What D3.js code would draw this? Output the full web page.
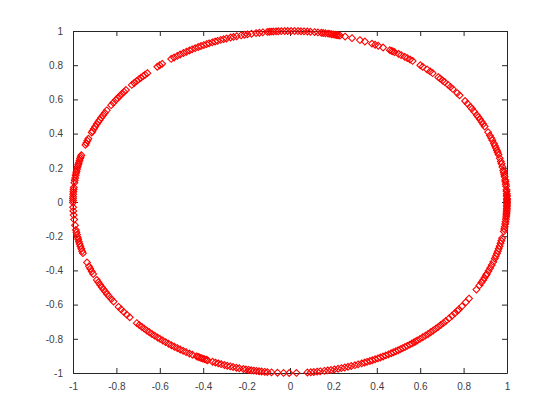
<!DOCTYPE html>
<html><head><meta charset="utf-8">
<script src="https://cdn.jsdelivr.net/npm/d3@7"></script>
<style>body{margin:0;background:#fff}svg{display:block}</style>
</head><body>
<script>
// Angles (degrees) of the plotted points on the unit circle
const anglesDeg = [
// right side, upper
0.3,0.8,1.2,1.9,2.3,2.8,3.6,4.1,5.3,6.0,6.8,7.4,8.5,9.2,9.9,10.6,11.8,12.9,13.7,14.8,16.1,16.9,17.6,18.4,19.2,20.0,21.2,22.0,22.9,24.1,26.2,27.1,28.0,28.9,29.8,30.6,31.9,33.0,33.8,35.1,36.2,38.6,39.6,41.4,42.3,43.2,44.5,45.3,46.2,46.9,48.9,49.8,50.8,52.3,53.1,
55.6,56.4,57.3,58.1,59.2,60.0,61.2,61.7,62.1,62.6,64.6,66.0,66.9,67.8,69.8,71.2,73.4,75.3,
76.7,77.2,77.6,78.0,78.5,78.9,79.4,79.9,80.6,81.2,
81.7,82.6,83.5,84.6,85.4,86.3,87.1,87.9,88.8,89.7,90.6,91.4,92.3,
// top-left
93.1,93.7,94.4,95.0,95.5,96.0,97.2,98.1,99.0,100.2,101.3,102.1,103.0,104.2,105.1,105.9,
107.0,107.8,108.6,109.5,110.2,111.0,111.9,112.6,113.4,114.2,115.0,115.9,116.8,117.6,118.5,119.4,120.4,121.3,122.3,123.2,
126.1,126.9,127.7,
131.1,131.9,132.6,133.4,134.2,135.0,135.9,136.8,
139.1,139.9,140.8,141.7,142.6,143.4,144.5,145.5,
147.6,148.6,149.6,150.5,151.3,152.0,152.9,153.8,154.6,155.5,156.0,
158.3,159.0,159.8,160.5,
164.1,164.7,165.3,166.0,166.8,167.4,168.1,168.9,169.6,170.2,171.0,171.9,172.7,173.5,
175.1,175.8,176.6,177.4,178.2,178.8,179.5,180.2,
181.8,183.0,184.4,185.9,187.8,189.4,
190.2,191.0,191.9,192.6,193.4,194.2,195.0,195.9,196.7,197.4,
200.7,
202.1,203.0,204.0,204.9,
207.1,208.0,209.0,209.9,210.8,211.7,212.6,213.5,214.6,215.6,
217.8,218.9,220.0,221.2,222.4,
225.1,226.0,226.9,227.8,228.7,229.6,230.5,231.4,232.4,
233.2,234.1,235.0,236.0,236.9,237.8,238.7,239.6,240.5,241.4,242.4,243.3,
244.5,244.9,245.3,245.8,246.3,246.8,247.3,247.7,
249.1,249.9,250.7,251.5,252.4,253.2,254.0,254.8,255.7,256.5,
257.6,258.3,259.0,259.7,260.4,261.1,261.8,262.5,263.3,264.0,
265.1,266.7,268.3,269.8,271.7,
// bottom-right
274.6,275.5,276.3,277.2,278.0,
279.1,280.0,280.9,281.8,282.8,283.7,284.6,285.5,286.4,287.4,288.3,289.3,
290.1,290.8,291.6,292.3,293.1,293.9,294.6,295.4,296.2,297.0,
297.8,298.5,299.2,299.9,300.6,301.3,302.0,302.7,303.5,304.2,304.8,305.3,
305.9,306.8,307.7,308.6,309.5,310.4,311.3,312.2,313.1,314.0,315.0,315.9,
317.1,318.3,319.4,320.5,
321.1,322.4,
324.1,325.6,329.2,330.8,
331.9,332.8,333.7,334.6,
335.1,336.2,337.3,338.4,339.5,
340.7,341.6,342.5,343.3,
344.1,345.0,346.0,346.9,347.8,
350.1,350.9,351.7,352.6,353.4,354.2,355.0,
355.6,356.2,356.7,357.3,357.8,358.4,358.9,359.4,359.9
];
const xTicks = [-1,-0.8,-0.6,-0.4,-0.2,0,0.2,0.4,0.6,0.8,1];
const yTicks = [-1,-0.8,-0.6,-0.4,-0.2,0,0.2,0.4,0.6,0.8,1];

const W = 560, H = 420;
const mLeft = 73, mRight = 507, mTop = 31, mBottom = 373;
const svg = d3.select("body").append("svg").attr("width", W).attr("height", H);
const x = d3.scaleLinear().domain([-1, 1]).range([mLeft, mRight]);
const y = d3.scaleLinear().domain([-1, 1]).range([mBottom, mTop]);

const pts = anglesDeg.map(a => ({x: Math.cos(a * Math.PI / 180), y: Math.sin(a * Math.PI / 180)}));

const fmt = d => String(d);
const axCol = "#262626", txtCol = "#404040";
const font = "Liberation Sans, Arial, sans-serif";

// axes with inward ticks
const gB = svg.append("g").attr("transform", `translate(0,${mBottom})`)
  .call(d3.axisBottom(x).tickValues(xTicks).tickFormat(fmt).tickSizeInner(-5).tickSizeOuter(0).tickPadding(10));
const gT = svg.append("g").attr("transform", `translate(0,${mTop})`)
  .call(d3.axisTop(x).tickValues(xTicks).tickFormat("").tickSizeInner(-5).tickSizeOuter(0));
const gL = svg.append("g").attr("transform", `translate(${mLeft},0)`)
  .call(d3.axisLeft(y).tickValues(yTicks).tickFormat(fmt).tickSizeInner(-5).tickSizeOuter(0).tickPadding(10));
const gR = svg.append("g").attr("transform", `translate(${mRight},0)`)
  .call(d3.axisRight(y).tickValues(yTicks).tickFormat("").tickSizeInner(-5).tickSizeOuter(0));
[gB, gT, gL, gR].forEach(g => {
  g.selectAll("path.domain").attr("stroke", axCol).attr("stroke-width", 1);
  g.selectAll(".tick line").attr("stroke", axCol).attr("stroke-width", 1);
  g.selectAll(".tick text").attr("fill", txtCol).style("font-family", font).style("font-size", "10px");
});

// diamond markers
const diamond = "M0,-3.4L3.4,0L0,3.4L-3.4,0Z";
svg.append("g").selectAll("path").data(pts).join("path")
  .attr("d", diamond)
  .attr("transform", d => `translate(${x(d.x)},${y(d.y)})`)
  .attr("fill", "none").attr("stroke", "#ff0000").attr("stroke-width", 1.1);
</script>
</body></html>
